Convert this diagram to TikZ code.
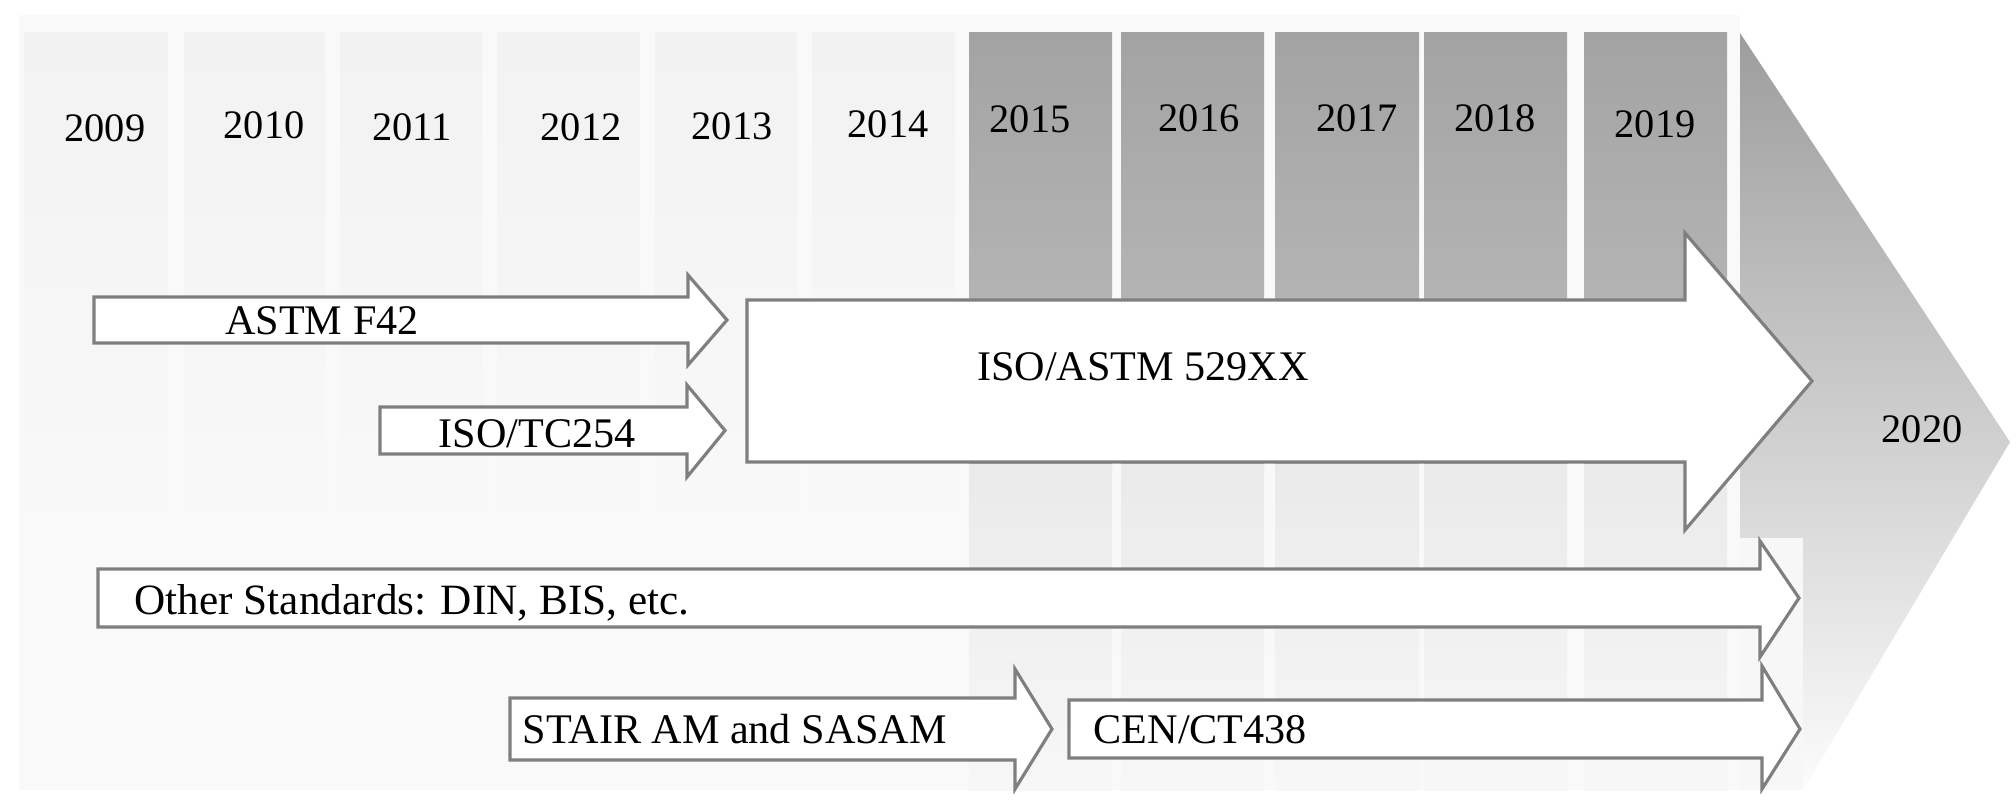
\documentclass[tikz,border=0pt]{standalone}
\usepackage{fontspec}
\setmainfont{Liberation Serif}
\definecolor{bgc}{HTML}{F9F9F9}
\definecolor{lcol}{HTML}{F2F2F2}
\definecolor{dtop}{HTML}{A3A3A3}
\definecolor{dbot}{HTML}{BEBEBE}
\definecolor{ltop}{HTML}{EAEAEA}
\definecolor{lbot}{HTML}{F7F7F7}
\definecolor{chtop}{HTML}{9D9D9D}
\definecolor{chmid}{HTML}{D6D6D6}
\definecolor{chbot}{HTML}{FCFCFC}
\definecolor{edgec}{HTML}{7F7F7F}
\newcommand{\blockarr}[7]{%
  % x0, ytop, ybot, xbase, headtop, headbot, xtip
  \draw[blk] (#1,#2) -- (#4,#2) -- (#4,#5) -- (#7,{(#2+#3)/2}) -- (#4,#6) -- (#4,#3) -- (#1,#3) -- cycle;}
\begin{document}
\begin{tikzpicture}[x=0.1mm,y=-0.1mm,
  blk/.style={draw=edgec, line width=0.9pt, fill=white, line join=miter},
  yr/.style={font=\fontsize{11.5}{13}\selectfont, inner sep=0pt, anchor=base},
  lbl/.style={font=\fontsize{12}{14}\selectfont, inner sep=0pt, anchor=base},
  lbll/.style={lbl, anchor=base west}]
\useasboundingbox (0,0) rectangle (2016,809);
\fill[white] (0,0) rectangle (2016,809);
\fill[bgc] (19,15) rectangle (1740,790);
% light columns
\foreach \a/\b in {24/168,184/325,340/482,497/640,655/797,812/955}
  \shade[top color=lcol, middle color=lcol, bottom color=bgc] (\a,32) rectangle (\b,545);
% dark columns
\foreach \a/\b in {969/1112,1121/1264,1275/1419,1424/1567,1584/1727}{
  \shade[top color=dtop, bottom color=dbot] (\a,32) rectangle (\b,464);
  \shade[top color=ltop, bottom color=lbot] (\a,464) rectangle (\b,790);}
% chevron
\shade[top color=chtop, middle color=chmid, bottom color=chbot]
  (1740,33) -- (2010,442) -- (1803,790) -- (1740,790) -- cycle;
\fill[lbot] (1740,538) rectangle (1803,790);
% block arrows
\blockarr{94}{297}{343}{688}{275}{365}{727}
\blockarr{380}{407}{454}{687}{385}{477}{725}
\blockarr{747}{300}{462}{1685}{233}{530}{1812}
\blockarr{98}{569}{627}{1760}{541}{657}{1799}
\blockarr{510}{698}{760}{1015}{669}{789}{1052}
\blockarr{1069}{700}{758}{1762}{666}{789}{1800}
% years
\node[yr] (y2009) at (105,141) {2009};
\node[yr] (y2010) at (264,138) {2010};
\node[yr] (y2011) at (412,140) {2011};
\node[yr] (y2012) at (581,140) {2012};
\node[yr] (y2013) at (732,139) {2013};
\node[yr] (y2014) at (888,137) {2014};
\node[yr] (y2015) at (1030,132) {2015};
\node[yr] (y2016) at (1199,131) {2016};
\node[yr] (y2017) at (1357,131) {2017};
\node[yr] (y2018) at (1495,131) {2018};
\node[yr] (y2019) at (1655,137) {2019};
\node[yr] (y2020) at (1922,442) {2020};
% labels
\node[lbl] (astm) at (322,334) {ASTM F42};
\node[lbl] (isotc) at (537,447) {ISO/TC254};
\node[lbl] (isoastm) at (1143,380) {ISO/ASTM 529XX};
\node[lbll] (other) at (134,614) {\fontsize{12.3}{14}\selectfont Other Standards: DIN, BIS, etc.};
\node[lbll] (stair) at (522,743) {STAIR AM and SASAM};
\node[lbll] (cen) at (1093,743) {CEN/CT438};
\end{tikzpicture}
\end{document}
